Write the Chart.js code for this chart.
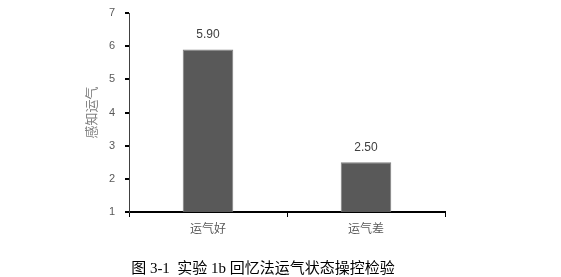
<!DOCTYPE html>
<html>
<head>
<meta charset="utf-8">
<script src="https://cdn.jsdelivr.net/npm/chart.js@4"></script>
<style>
    body { margin: 0; background: #fff; }
    #wrap { position: relative; width: 561px; height: 277px; }
    #caption {
        position: absolute;
        left: 0; width: 526px;
        top: 256px;
        text-align: center;
        font-family: "Liberation Serif", "Noto Sans CJK SC", serif;
        font-size: 15px;
        color: #000;
    }
</style>
</head>
<body>
<div id="wrap">
    <canvas id="chart" width="561" height="277"></canvas>
    <div id="caption">图 3-1&nbsp; 实验 1b 回忆法运气状态操控检验</div>
</div>
<script>
// 数据
const categories = ['运气好', '运气差'];
const luckValues = [5.90, 2.50];
const yMin = 1;
const yMax = 7;

// 柱顶数值标签
const valueLabels = {
    id: 'valueLabels',
    afterDatasetsDraw(chart) {
        const ctx = chart.ctx;
        const meta = chart.getDatasetMeta(0);
        ctx.save();
        ctx.font = '12px "Liberation Sans", "Noto Sans", sans-serif';
        ctx.fillStyle = '#404040';
        ctx.textAlign = 'center';
        ctx.textBaseline = 'middle';
        meta.data.forEach((bar, i) => {
            ctx.fillText(luckValues[i].toFixed(2), bar.x, bar.y - 15);
        });
        ctx.restore();
    }
};

const tickFont = { family: '"Liberation Sans", "Noto Sans", sans-serif', size: 11 };

new Chart(document.getElementById('chart'), {
    type: 'bar',
    data: {
        labels: categories,
        datasets: [{
            data: luckValues,
            backgroundColor: '#595959',
            borderColor: '#7f7f7f',
            borderWidth: 1,
            categoryPercentage: 1,
            barPercentage: 0.32
        }]
    },
    options: {
        responsive: false,
        animation: false,
        layout: {
            padding: { left: 83, right: 116, top: 13, bottom: 0 }
        },
        plugins: {
            legend: { display: false },
            tooltip: { enabled: false }
        },
        scales: {
            x: {
                grid: {
                    offset: true,
                    drawOnChartArea: false,
                    drawTicks: true,
                    tickLength: 5,
                    color: '#000'
                },
                border: { display: true, color: '#000', width: 2 },
                ticks: {
                    color: '#595959',
                    font: { family: '"Noto Sans CJK SC", sans-serif', size: 12 },
                    padding: 4
                },
                afterFit(scale) {
                    scale.height = 65;
                    scale.paddingLeft = 0;
                    scale.paddingRight = 0;
                }
            },
            y: {
                min: yMin,
                max: yMax,
                grid: {
                    drawOnChartArea: false,
                    drawTicks: true,
                    tickLength: 4,
                    lineWidth: 2,
                    color: '#000'
                },
                border: { display: true, color: '#404040', width: 1 },
                ticks: {
                    stepSize: 1,
                    color: '#595959',
                    font: tickFont,
                    padding: 10
                },
                title: {
                    display: true,
                    text: '感知运气',
                    color: '#808080',
                    font: { family: '"Noto Sans CJK SC", sans-serif', size: 13 },
                    padding: { top: 0, bottom: 0 }
                },
                afterFit(scale) {
                    scale.width = 46;
                    scale.paddingTop = 0;
                    scale.paddingBottom = 0;
                }
            }
        }
    },
    plugins: [valueLabels]
});
</script>
</body>
</html>
